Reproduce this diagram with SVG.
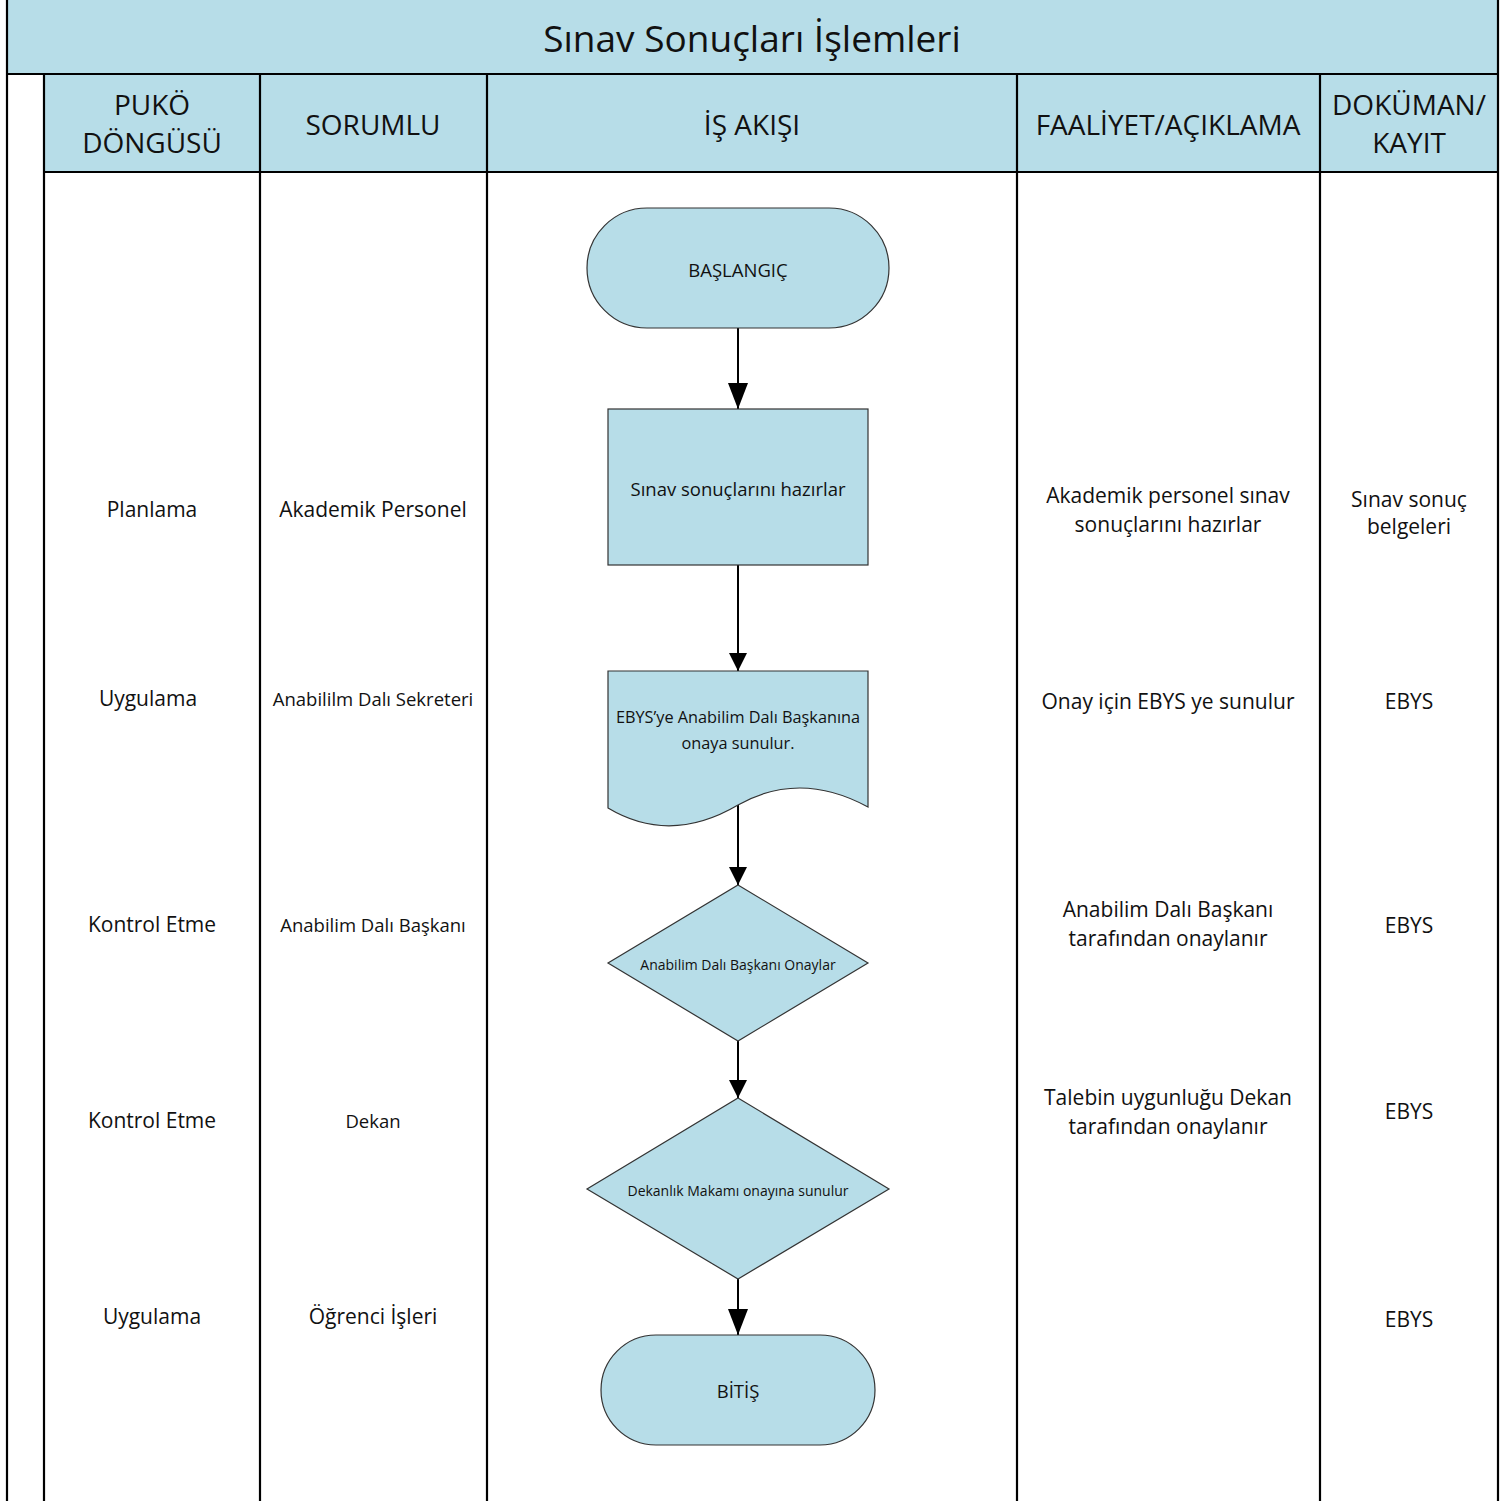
<svg xmlns="http://www.w3.org/2000/svg" width="1510" height="1501" viewBox="0 0 1510 1501">
<defs>
<style>
.t{font-family:"Open Sans","Noto Sans","Liberation Sans",sans-serif;fill:#111;text-anchor:middle;dominant-baseline:central}
.hd{font-size:28px}
.ti{font-size:37px}
.b{font-size:21px}
.s{font-size:18.5px}
.n{font-size:18.5px}
.nm{font-size:16.3px}
.nd{font-size:14px}
.shape{fill:#B7DDE8;stroke:#333;stroke-width:1.2}
.grid{stroke:#000;stroke-width:2.2;fill:none}
.con{stroke:#000;stroke-width:2;fill:none}
</style>
<marker id="ah" markerUnits="userSpaceOnUse" markerWidth="26" markerHeight="20" viewBox="0 0 26 20" refX="26" refY="10" orient="auto">
<path d="M0,0 L26,10 L0,20 Z" fill="#000"/>
</marker>
<marker id="ahs" markerUnits="userSpaceOnUse" markerWidth="18" markerHeight="18" viewBox="0 0 18 18" refX="18" refY="9" orient="auto">
<path d="M0,0 L18,9 L0,18 Z" fill="#000"/>
</marker>
</defs>
<rect x="0" y="0" width="1510" height="1501" fill="#fff"/>
<g id="table">
<rect x="7" y="0" width="1491" height="74" fill="#B7DDE8"/>
<rect x="44" y="74" width="1454" height="98" fill="#B7DDE8"/>
<path class="grid" d="M7,0 V1501 M1498,0 V1501 M7,74 H1498 M44,172 H1498 M44,74 V1501 M260,74 V1501 M487,74 V1501 M1017,74 V1501 M1320,74 V1501"/>
<text class="t ti" x="752" y="37">Sınav Sonuçları İşlemleri</text>
<text class="t hd" x="152" y="104">PUKÖ</text>
<text class="t hd" x="152" y="142">DÖNGÜSÜ</text>
<text class="t hd" x="373" y="124">SORUMLU</text>
<text class="t hd" x="752" y="124">İŞ AKIŞI</text>
<text class="t hd" x="1168" y="124">FAALİYET/AÇIKLAMA</text>
<text class="t hd" x="1409" y="104">DOKÜMAN/</text>
<text class="t hd" x="1409" y="142">KAYIT</text>
</g>
<g id="col-puko">
<text class="t b" x="152" y="509">Planlama</text>
<text class="t b" x="148" y="698">Uygulama</text>
<text class="t b" x="152" y="924">Kontrol Etme</text>
<text class="t b" x="152" y="1120">Kontrol Etme</text>
<text class="t b" x="152" y="1316">Uygulama</text>
</g>
<g id="col-sorumlu">
<text class="t b" x="373" y="509">Akademik Personel</text>
<text class="t s" x="373" y="698">Anabililm Dalı Sekreteri</text>
<text class="t s" x="373" y="924">Anabilim Dalı Başkanı</text>
<text class="t s" x="373" y="1120">Dekan</text>
<text class="t b" x="373" y="1316">Öğrenci İşleri</text>
</g>
<g id="col-faaliyet">
<text class="t b" x="1168" y="495">Akademik personel sınav</text>
<text class="t b" x="1168" y="524">sonuçlarını hazırlar</text>
<text class="t b" x="1168" y="701">Onay için EBYS ye sunulur</text>
<text class="t b" x="1168" y="909">Anabilim Dalı Başkanı</text>
<text class="t b" x="1168" y="938">tarafından onaylanır</text>
<text class="t b" x="1168" y="1097">Talebin uygunluğu Dekan</text>
<text class="t b" x="1168" y="1126">tarafından onaylanır</text>
</g>
<g id="col-dokuman">
<text class="t b" x="1409" y="499">Sınav sonuç</text>
<text class="t b" x="1409" y="526">belgeleri</text>
<text class="t b" x="1409" y="701">EBYS</text>
<text class="t b" x="1409" y="925">EBYS</text>
<text class="t b" x="1409" y="1111">EBYS</text>
<text class="t b" x="1409" y="1319">EBYS</text>
</g>
<g id="connectors">
<line class="con" x1="738" y1="328" x2="738" y2="409" marker-end="url(#ah)"/>
<line class="con" x1="738" y1="565" x2="738" y2="671" marker-end="url(#ahs)"/>
<line class="con" x1="738" y1="805" x2="738" y2="885" marker-end="url(#ahs)"/>
<line class="con" x1="738" y1="1041" x2="738" y2="1098" marker-end="url(#ahs)"/>
<line class="con" x1="738" y1="1279" x2="738" y2="1335" marker-end="url(#ah)"/>
</g>
<g id="start">
<rect class="shape" x="587" y="208" width="302" height="120" rx="60" ry="60"/>
<text class="t n" x="738" y="269">BAŞLANGIÇ</text>
</g>
<g id="prepare">
<rect class="shape" x="608" y="409" width="260" height="156"/>
<text class="t n" x="738" y="488">Sınav sonuçlarını hazırlar</text>
</g>
<g id="submit">
<path class="shape" d="M608,671 H868 V807 Q800,770 738,805 Q670,845 608,808 Z"/>
<text class="t nm" x="738" y="717">EBYS’ye Anabilim Dalı Başkanına</text>
<text class="t nm" x="738" y="743">onaya sunulur.</text>
</g>
<g id="approve1">
<path class="shape" d="M738,885 L868,963 L738,1041 L608,963 Z"/>
<text class="t nd" x="738" y="964">Anabilim Dalı Başkanı Onaylar</text>
</g>
<g id="approve2">
<path class="shape" d="M738,1098 L889,1189 L738,1279 L587,1189 Z"/>
<text class="t nd" x="738" y="1190">Dekanlık Makamı onayına sunulur</text>
</g>
<g id="end">
<rect class="shape" x="601" y="1335" width="274" height="110" rx="55" ry="55"/>
<text class="t n" x="738" y="1390">BİTİŞ</text>
</g>
</svg>
